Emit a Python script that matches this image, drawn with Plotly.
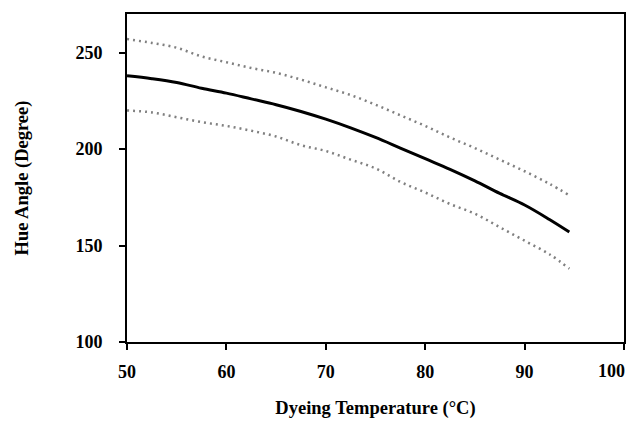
import plotly.graph_objects as go

temperature = [50, 52.5, 55, 57.5, 60, 62.5, 65, 67.5, 70, 72.5, 75, 77.5, 80,
               82.5, 85, 87.5, 90, 92.5, 94.5]
hue_mean = [238, 236.5, 234.5, 231.5, 229, 226, 223, 219.5, 215.5, 211, 206,
            200.5, 195, 189.5, 183.5, 177, 171, 163.5, 157]
hue_upper = [257, 255, 252.5, 248, 245, 242, 239.5, 236, 232, 228, 223, 217.5,
             212, 206, 200.5, 194.5, 188.5, 182, 176]
hue_lower = [220, 219, 216.5, 214, 212, 209.5, 206.5, 202, 199, 194.5, 190, 183,
             177.5, 171.5, 166.5, 159.5, 152.5, 145.5, 138]

x_ticks = [50, 60, 70, 80, 90, 100]
x_tick_labels = ["50", "60", "70", "80", "90", "100"]
y_ticks = [100, 150, 200, 250]

font_family = "Liberation Serif"

fig = go.Figure()
for vals in (hue_upper, hue_lower):
    fig.add_trace(go.Scatter(x=temperature, y=vals, mode="lines",
                             line=dict(color="#808080", width=2.5, dash="2px,4px", shape="spline"),
                             showlegend=False, hoverinfo="skip"))
fig.add_trace(go.Scatter(x=temperature, y=hue_mean, mode="lines",
                         line=dict(color="black", width=3, shape="spline"),
                         showlegend=False))

tick_font = dict(family=font_family, size=18, color="black", weight="bold")
axis_common = dict(showline=True, linecolor="black", linewidth=2, mirror=True,
                   ticks="outside", ticklen=6, tickwidth=2, tickcolor="black",
                   showgrid=False, zeroline=False, tickfont=tick_font)

title_font = dict(family=font_family, size=18.5, color="black", weight="bold")

# last x label is drawn as an annotation, nudged left so it stays inside the page
shown_labels = x_tick_labels[:-1] + [""]

fig.update_layout(
    width=624, height=411,
    margin=dict(l=119, r=8, t=4, b=74),
    paper_bgcolor="white", plot_bgcolor="white",
    font=dict(family=font_family, color="black"),
    xaxis=dict(range=[50, 100], tickvals=x_ticks, ticktext=shown_labels,
               ticklabelstandoff=6,
               title=dict(text="Dyeing Temperature (°C)", font=title_font, standoff=20),
               **axis_common),
    yaxis=dict(range=[100, 270], tickvals=y_ticks, ticklabelstandoff=13,
               title=dict(text="Hue Angle (Degree)", font=title_font, standoff=42),
               **axis_common),
    annotations=[dict(x=x_ticks[-1], y=0, xref="x", yref="paper",
                      text=x_tick_labels[-1], showarrow=False,
                      xanchor="right", yanchor="top", xshift=3, yshift=-17,
                      font=tick_font)],
)

fig.write_html("out.html")
